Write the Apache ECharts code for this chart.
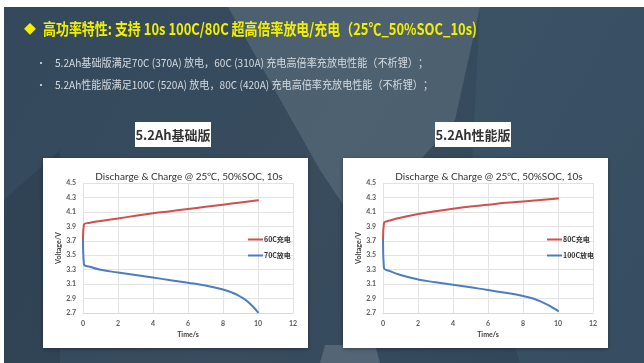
<!DOCTYPE html>
<html>
<head>
<meta charset="utf-8">
<script src="https://cdn.jsdelivr.net/npm/echarts@6/dist/echarts.min.js"></script>
<style>
  html, body { margin: 0; padding: 0; background: #ffffff; }
  #chart { width: 644px; height: 363px; }
</style>
</head>
<body>
<div id="chart"></div>
<script>
// Pulse test, 25℃, 50% SOC, 10 s — basic (left) and performance (right) 5.2Ah cells
const timeChargeBasic = [0, 0.05, 0.4, 1, 2, 3, 4, 5, 6, 7, 8, 9, 10];
const voltCharge60C = [3.70, 3.92, 3.95, 3.975, 4.01, 4.045, 4.08, 4.11, 4.14, 4.17, 4.20, 4.23, 4.26];

const timeDischargeBasic = [0, 0.05, 0.4, 1, 2, 3, 4, 5, 6, 7, 8, 8.5, 9, 9.5, 10];
const voltDischarge70C = [3.70, 3.38, 3.34, 3.30, 3.26, 3.225, 3.19, 3.155, 3.12, 3.08, 3.025, 2.985, 2.925, 2.84, 2.71];

const timeChargePerf = [0, 0.05, 0.4, 1, 2, 3, 4, 5, 6, 7, 8, 9, 10];
const voltCharge80C = [3.70, 3.94, 3.98, 4.02, 4.07, 4.11, 4.145, 4.175, 4.20, 4.225, 4.245, 4.265, 4.285];

const timeDischargePerf = [0, 0.05, 0.4, 1, 2, 3, 4, 5, 6, 7, 8, 9, 10];
const voltDischarge100C = [3.70, 3.33, 3.28, 3.225, 3.165, 3.125, 3.09, 3.055, 3.02, 2.98, 2.935, 2.86, 2.73];

const seriesNamesBasic = ['60C充电', '70C放电'];
const seriesNamesPerf = ['80C充电', '100C放电'];

const headline = '高功率特性: 支持 10s 100C/80C 超高倍率放电/充电（25℃_50%SOC_10s)';
const bulletLines = [
  '5.2Ah基础版满足70C (370A) 放电，60C (310A) 充电高倍率充放电性能（不析锂）；',
  '5.2Ah性能版满足100C (520A) 放电，80C (420A) 充电高倍率充放电性能（不析锂）；'
];
const panelLabels = ['5.2Ah基础版', '5.2Ah性能版'];
const chartTitle = 'Discharge & Charge @ 25℃, 50%SOC, 10s';
const xName = 'Time/s';
const yName = 'Voltage/V';

const pairs = (xs, ys) => xs.map((x, i) => [x, ys[i]]);

// horizontal squeeze so a line of text spans a given width
const measureCanvas = document.createElement('canvas').getContext('2d');
function fitScale(text, font, width) {
  measureCanvas.font = font;
  return width / measureCanvas.measureText(text).width;
}

const RED = '#d0504f';
const BLUE = '#4a7dc2';
const CJK = '"Noto Sans CJK SC", "Noto Sans", sans-serif';

const headFont = 'bold 16px ' + CJK;
const bulletFont = '11px ' + CJK;

const graphics = [
  // backdrop
  { type: 'rect', silent: true, z: -10, shape: { x: 4, y: 7, width: 640, height: 356 },
    style: { fill: new echarts.graphic.LinearGradient(0, 0, 1, 1, [
      { offset: 0, color: '#34495c' }, { offset: 0.5, color: '#384c5e' }, { offset: 1, color: '#304559' }]) } },
  { type: 'polygon', silent: true, z: -9, shape: { points: [[228, 7], [480, 7], [455, 120], [360, 230], [320, 170]] },
    style: { fill: 'rgba(120,138,150,0.35)' } },
  { type: 'polygon', silent: true, z: -9, shape: { points: [[480, 7], [644, 7], [644, 363], [520, 363], [470, 200]] },
    style: { fill: 'rgba(70,95,115,0.35)' } },
  { type: 'polygon', silent: true, z: -9, shape: { points: [[325, 345], [375, 345], [380, 363], [320, 363]] },
    style: { fill: 'rgba(140,155,165,0.35)' } },
  { type: 'polygon', silent: true, z: -9, shape: { points: [[4, 200], [60, 150], [60, 363], [4, 363]] },
    style: { fill: 'rgba(40,58,75,0.4)' } },

  // headline
  { type: 'text', x: 24, y: 29, style: { text: '◆', font: 'bold 12px ' + CJK, fill: '#f2f000', verticalAlign: 'middle' } },
  { type: 'text', x: 43, y: 29, scaleX: fitScale(headline, headFont, 434),
    style: { text: headline, font: headFont, fill: '#f2f000', verticalAlign: 'middle' } },

  // bullet lines
  { type: 'text', x: 36, y: 63, style: { text: '•', font: '10px ' + CJK, fill: '#d5dbe0', verticalAlign: 'middle' } },
  { type: 'text', x: 55, y: 63, scaleX: fitScale(bulletLines[0], bulletFont, 373),
    style: { text: bulletLines[0], font: bulletFont, fill: '#d5dbe0', verticalAlign: 'middle' } },
  { type: 'text', x: 36, y: 85, style: { text: '•', font: '10px ' + CJK, fill: '#d5dbe0', verticalAlign: 'middle' } },
  { type: 'text', x: 55, y: 85, scaleX: fitScale(bulletLines[1], bulletFont, 378),
    style: { text: bulletLines[1], font: bulletFont, fill: '#d5dbe0', verticalAlign: 'middle' } },

  // panel labels
  { type: 'rect', shape: { x: 135, y: 122, width: 76, height: 25 }, style: { fill: '#ffffff' } },
  { type: 'text', x: 173, y: 135, style: { text: panelLabels[0], font: 'bold 13px ' + CJK, fill: '#333333', align: 'center', verticalAlign: 'middle' } },
  { type: 'rect', shape: { x: 435, y: 122, width: 76, height: 25 }, style: { fill: '#ffffff' } },
  { type: 'text', x: 473, y: 135, style: { text: panelLabels[1], font: 'bold 13px ' + CJK, fill: '#333333', align: 'center', verticalAlign: 'middle' } },

  // chart panels
  { type: 'rect', z: -5, shape: { x: 43, y: 158, width: 265, height: 190 },
    style: { fill: '#ffffff', shadowBlur: 4, shadowColor: 'rgba(0,0,0,0.35)', shadowOffsetY: 1 } },
  { type: 'rect', z: -5, shape: { x: 343, y: 158, width: 265, height: 190 },
    style: { fill: '#ffffff', shadowBlur: 4, shadowColor: 'rgba(0,0,0,0.35)', shadowOffsetY: 1 } }
];

function xAxisCfg(gridIndex) {
  return {
    type: 'value', gridIndex, min: 0, max: 12, interval: 2,
    name: xName, nameLocation: 'middle', nameGap: 18,
    nameTextStyle: { fontSize: 7, color: '#404040', fontFamily: 'Lato', fontWeight: 'bold' },
    axisLine: { show: true, lineStyle: { color: '#d9d9d9' } },
    axisTick: { show: false },
    axisLabel: { fontSize: 7, color: '#595959', fontFamily: 'Lato', fontWeight: 'bold', margin: 7 },
    splitLine: { show: true, lineStyle: { color: '#e3e3e3', width: 1 } }
  };
}
function yAxisCfg(gridIndex) {
  return {
    type: 'value', gridIndex, min: 2.7, max: 4.5, interval: 0.2,
    name: yName, nameLocation: 'middle', nameGap: 20,
    nameTextStyle: { fontSize: 7, color: '#404040', fontFamily: 'Lato', fontWeight: 'bold' },
    axisLine: { show: false }, axisTick: { show: false },
    axisLabel: { fontSize: 7, color: '#595959', fontFamily: 'Lato', fontWeight: 'bold', margin: 7,
      formatter: v => v.toFixed(1) },
    splitLine: { show: true, lineStyle: { color: '#e3e3e3', width: 1 } }
  };
}
function lineSeries(name, data, color, idx) {
  return {
    name, type: 'line', data, xAxisIndex: idx, yAxisIndex: idx,
    showSymbol: false, symbol: 'none', smooth: 0.5,
    lineStyle: { color, width: 2, cap: 'round', join: 'round' }, itemStyle: { color }
  };
}
function legendCfg(names, left) {
  return {
    data: names, left, top: 231, orient: 'vertical', itemGap: 9,
    itemWidth: 15, itemHeight: 2, icon: 'rect',
    textStyle: { fontSize: 7, color: '#333333', fontWeight: 'bold', fontFamily: CJK, padding: [0, 0, 0, -4] }
  };
}

const titleStyle = { fontSize: 10, fontWeight: 'normal', color: '#333333', fontFamily: 'Lato' };

const chart = echarts.init(document.getElementById('chart'), null, { renderer: 'canvas' });
chart.setOption({
  animation: false,
  backgroundColor: '#ffffff',
  graphic: graphics,
  title: [
    { text: chartTitle, left: 184, top: 167, textAlign: 'center', textStyle: titleStyle },
    { text: chartTitle, left: 484, top: 167, textAlign: 'center', textStyle: titleStyle }
  ],
  legend: [legendCfg(seriesNamesBasic, 243), legendCfg(seriesNamesPerf, 542)],
  grid: [
    { left: 83, top: 183, width: 210, height: 130 },
    { left: 383, top: 183, width: 210, height: 130 }
  ],
  xAxis: [xAxisCfg(0), xAxisCfg(1)],
  yAxis: [yAxisCfg(0), yAxisCfg(1)],
  series: [
    lineSeries(seriesNamesBasic[0], pairs(timeChargeBasic, voltCharge60C), RED, 0),
    lineSeries(seriesNamesBasic[1], pairs(timeDischargeBasic, voltDischarge70C), BLUE, 0),
    lineSeries(seriesNamesPerf[0], pairs(timeChargePerf, voltCharge80C), RED, 1),
    lineSeries(seriesNamesPerf[1], pairs(timeDischargePerf, voltDischarge100C), BLUE, 1)
  ]
});
</script>
</body>
</html>
